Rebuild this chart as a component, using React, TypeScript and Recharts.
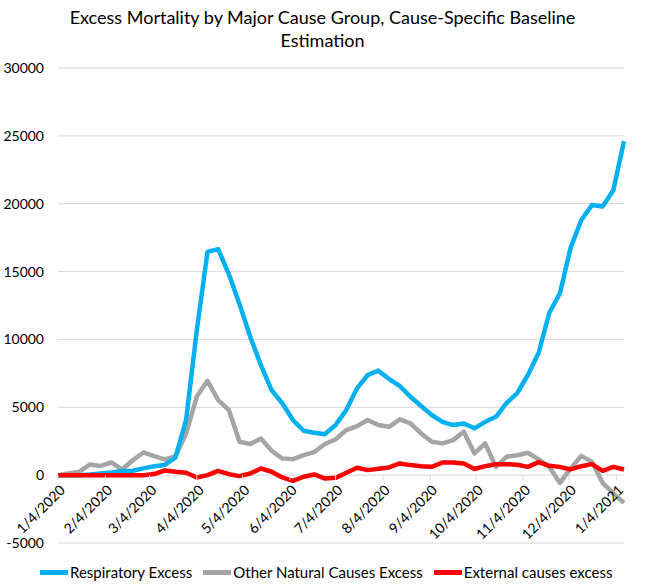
import React from 'react';
import { LineChart, Line, XAxis, YAxis, CartesianGrid } from 'recharts';

// week-ending dates (CDC weeks)
const weekDates = [
  '1/4/2020', '1/11/2020', '1/18/2020', '1/25/2020', '2/1/2020', '2/8/2020', '2/15/2020', '2/22/2020',
  '2/29/2020', '3/7/2020', '3/14/2020', '3/21/2020', '3/28/2020', '4/4/2020', '4/11/2020', '4/18/2020',
  '4/25/2020', '5/2/2020', '5/9/2020', '5/16/2020', '5/23/2020', '5/30/2020', '6/6/2020', '6/13/2020',
  '6/20/2020', '6/27/2020', '7/4/2020', '7/11/2020', '7/18/2020', '7/25/2020', '8/1/2020', '8/8/2020',
  '8/15/2020', '8/22/2020', '8/29/2020', '9/5/2020', '9/12/2020', '9/19/2020', '9/26/2020', '10/3/2020',
  '10/10/2020', '10/17/2020', '10/24/2020', '10/31/2020', '11/7/2020', '11/14/2020', '11/21/2020', '11/28/2020',
  '12/5/2020', '12/12/2020', '12/19/2020', '12/26/2020', '1/2/2021', '1/9/2021',
];

const respiratory = [
  0, 0, 0, 50, 120, 200, 300, 320, 500, 650,
  750, 1300, 4100, 10700, 16450, 16650, 14800, 12600, 10200, 8100,
  6270, 5300, 4060, 3270, 3120, 3020, 3700, 4800, 6400, 7380,
  7700, 7080, 6570, 5780, 5090, 4430, 3930, 3690, 3810, 3450,
  3930, 4300, 5300, 6050, 7380, 9000, 11950, 13400, 16750, 18800,
  19900, 19800, 21000, 24600,
];

const otherNatural = [
  0, 120, 250, 790, 680, 940, 420, 1100, 1670, 1400,
  1160, 1400, 3050, 5800, 6950, 5530, 4800, 2460, 2290, 2700,
  1800, 1230, 1180, 1470, 1700, 2290, 2650, 3320, 3610, 4060,
  3690, 3560, 4110, 3810, 3070, 2460, 2340, 2580, 3200, 1600,
  2340, 610, 1350, 1470, 1650, 1160, 610, -570, 490, 1420,
  980, -570, -1350, -2040,
];

const external = [
  0, 0, 0, 0, 0, 0, 0, 0, 0, 80,
  350, 250, 180, -170, 0, 320, 70, -70, 120, 490,
  250, -170, -420, -120, 50, -250, -200, 170, 540, 370,
  470, 570, 860, 740, 660, 610, 930, 930, 860, 450,
  660, 810, 810, 760, 610, 960, 690, 610, 420, 660,
  810, 320, 610, 420,
];

const monthTicks = [
  '1/4/2020', '2/4/2020', '3/4/2020', '4/4/2020', '5/4/2020', '6/4/2020', '7/4/2020',
  '8/4/2020', '9/4/2020', '10/4/2020', '11/4/2020', '12/4/2020', '1/4/2021',
];

const yTicks = [-5000, 0, 5000, 10000, 15000, 20000, 25000, 30000];

const series = [
  { key: 'other', name: 'Other Natural Causes Excess', color: '#A5A5A5' },
  { key: 'respiratory', name: 'Respiratory Excess', color: '#00B0F0' },
  { key: 'external', name: 'External causes excess', color: '#FF0000' },
];
const legendOrder = ['respiratory', 'other', 'external'];

const FONT = 'Lato, "Open Sans", sans-serif';
const W = 645;
const H = 586;
const MARGIN = { top: 68, right: 21, bottom: 42, left: 0 };
const X_AXIS_H = 1;
const PLOT_H = H - MARGIN.top - MARGIN.bottom - X_AXIS_H;
const Y_MIN = yTicks[0];
const Y_MAX = yTicks[yTicks.length - 1];
// distance from plot bottom up to the zero line, where Excel puts the date labels
const ZERO_SHIFT = (PLOT_H * (0 - Y_MIN)) / (Y_MAX - Y_MIN);

const START = Date.UTC(2020, 0, 4);
const dayOf = (label: string) => {
  const [m, d, y] = label.split('/').map(Number);
  return Math.round((Date.UTC(y, m - 1, d) - START) / 86400000);
};
const tickDays = monthTicks.map(dayOf);

const data = weekDates.map((w, i) => ({
  day: dayOf(w),
  respiratory: respiratory[i],
  other: otherNatural[i],
  external: external[i],
}));

const MonthTick = (props: any) => {
  const { x, y, payload } = props;
  const label = monthTicks[tickDays.indexOf(payload.value)];
  const y0 = y - ZERO_SHIFT;
  const ax = x + 4;
  const ay = y0 + 12;
  return (
    <g>
      <line x1={x} x2={x} y1={y0} y2={y0 + 5} stroke="#d9d9d9" strokeWidth={1} />
      <text
        x={ax}
        y={ay}
        textAnchor="end"
        dominantBaseline="central"
        transform={`rotate(-45 ${ax} ${ay})`}
        fontSize={14}
        fontFamily={FONT}
        fill="#000"
      >
        {label}
      </text>
    </g>
  );
};

export default function App() {
  const byKey = Object.fromEntries(series.map(s => [s.key, s]));
  return (
    <div style={{ position: 'absolute', left: 0, top: 0, width: W, height: H, background: '#fff', fontFamily: FONT }}>
      <div
        style={{
          position: 'absolute',
          top: 6,
          left: 0,
          width: W,
          textAlign: 'center',
          fontSize: 18,
          lineHeight: '23px',
          color: '#000',
        }}
      >
        Excess Mortality by Major Cause Group, Cause-Specific Baseline
        <br />
        Estimation
      </div>

      <LineChart width={W} height={H} data={data} margin={MARGIN}>
        <CartesianGrid vertical={false} stroke="#d9d9d9" strokeWidth={1} />
        <XAxis
          dataKey="day"
          type="number"
          domain={[0, dayOf(weekDates[weekDates.length - 1])]}
          ticks={tickDays}
          interval={0}
          height={X_AXIS_H}
          axisLine={false}
          tickLine={false}
          tickSize={0}
          tickMargin={0}
          tick={<MonthTick />}
        />
        <YAxis
          domain={[Y_MIN, Y_MAX]}
          ticks={yTicks}
          width={58}
          axisLine={false}
          tickLine={false}
          tickSize={0}
          tickMargin={14}
          tick={{ fontSize: 14, fontFamily: FONT, fill: '#000' }}
        />
        {series.map(s => (
          <Line
            key={s.key}
            type="linear"
            dataKey={s.key}
            name={s.name}
            stroke={s.color}
            strokeWidth={4.5}
            strokeLinejoin="round"
            dot={false}
            activeDot={false}
            isAnimationActive={false}
          />
        ))}
      </LineChart>

      <div
        style={{
          position: 'absolute',
          top: 562,
          left: 40,
          display: 'flex',
          alignItems: 'center',
          fontSize: 15,
          lineHeight: '20px',
          color: '#000',
          whiteSpace: 'nowrap',
        }}
      >
        {legendOrder.map((k, i) => (
          <div key={k} style={{ display: 'flex', alignItems: 'center', marginLeft: i === 0 ? 0 : 11 }}>
            <span style={{ display: 'inline-block', width: 28, height: 5, background: byKey[k].color, marginRight: 2 }} />
            <span>{byKey[k].name}</span>
          </div>
        ))}
      </div>
    </div>
  );
}
